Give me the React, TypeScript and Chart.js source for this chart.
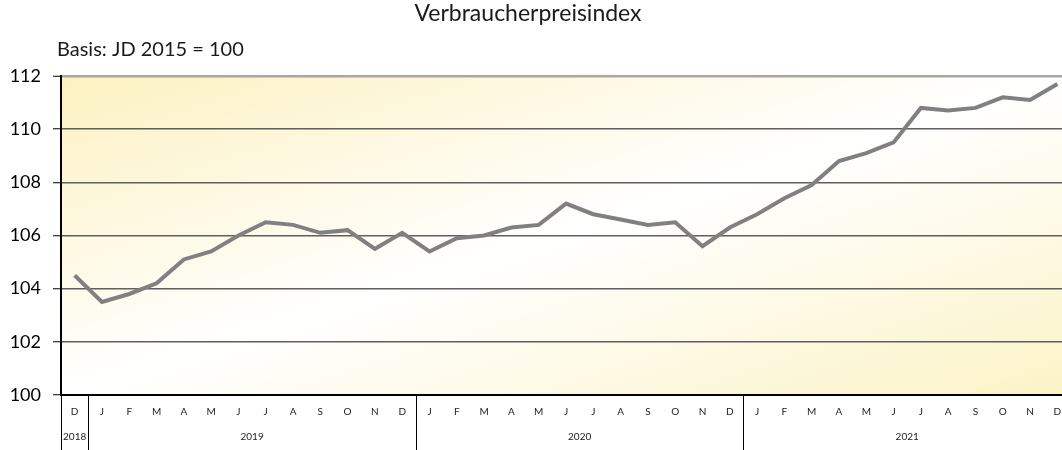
import React, { useEffect, useRef } from "react";
import { Chart, registerables } from "chart.js";

Chart.register(...registerables);

const chartTitle = "Verbraucherpreisindex";
const chartSubtitle = "Basis: JD 2015 = 100";

const monthLabels = [
  "D",
  "J", "F", "M", "A", "M", "J", "J", "A", "S", "O", "N", "D",
  "J", "F", "M", "A", "M", "J", "J", "A", "S", "O", "N", "D",
  "J", "F", "M", "A", "M", "J", "J", "A", "S", "O", "N", "D",
];

const yearLabels = ["2018", "2019", "2020", "2021"];
const monthsPerYear = [1, 12, 12, 12];

const cpiValues = [
  104.5,
  103.5, 103.8, 104.2, 105.1, 105.4, 106.0, 106.5, 106.4, 106.1, 106.2, 105.5, 106.1,
  105.4, 105.9, 106.0, 106.3, 106.4, 107.2, 106.8, 106.6, 106.4, 106.5, 105.6, 106.3,
  106.8, 107.4, 107.9, 108.8, 109.1, 109.5, 110.8, 110.7, 110.8, 111.2, 111.1, 111.7,
];

const yMin = 100;
const yMax = 112;
const yStep = 2;

const FONT = "Lato, 'Noto Sans', sans-serif";

const backgroundPlugin = {
  id: "bgGradient",
  beforeDraw(chart: any) {
    const { ctx, chartArea } = chart;
    if (!chartArea) return;
    const { left, top, right, bottom } = chartArea;
    const W = right - left;
    const H = bottom - top;
    const cx = (left + right) / 2;
    const cy = (top + bottom) / 2;
    const k = (W * H) / (W * W + H * H);
    const g = ctx.createLinearGradient(cx - k * H, cy - k * W, cx + k * H, cy + k * W);
    g.addColorStop(0, "#fcf1c0");
    g.addColorStop(0.5, "#ffffff");
    g.addColorStop(1, "#fbf3c6");
    ctx.save();
    ctx.fillStyle = g;
    ctx.fillRect(left, top, W, H);
    ctx.restore();
  },
};

const overlayPlugin = {
  id: "overlay",
  afterDraw(chart: any) {
    const { ctx, chartArea } = chart;
    const xScale = chart.scales.x;
    ctx.save();
    // title
    ctx.fillStyle = "#1a1a1a";
    ctx.font = `23px ${FONT}`;
    ctx.textAlign = "center";
    ctx.textBaseline = "middle";
    ctx.fillText(chartTitle, chart.width / 2 - 3, 14);
    // subtitle
    ctx.font = `20px ${FONT}`;
    ctx.textAlign = "left";
    ctx.fillText(chartSubtitle, 57, 50);

    // year separators and labels
    ctx.strokeStyle = "#000000";
    ctx.lineWidth = 1;
    let start = 0;
    const bottomY = chart.height;
    const drawSep = (idx: number) => {
      const px = Math.round(xScale.getPixelForValue(idx - 0.5)) + 0.5;
      ctx.beginPath();
      ctx.moveTo(px, chartArea.bottom);
      ctx.lineTo(px, bottomY);
      ctx.stroke();
    };
    ctx.font = `10px ${FONT}`;
    ctx.textAlign = "center";
    ctx.fillStyle = "#222222";
    monthsPerYear.forEach((n, i) => {
      drawSep(start);
      const mid = start + (n - 1) / 2;
      ctx.fillText(yearLabels[i], xScale.getPixelForValue(mid), 437);
      start += n;
    });
    drawSep(start);
    ctx.restore();
  },
};

export default function App() {
  const canvasRef = useRef<HTMLCanvasElement | null>(null);

  useEffect(() => {
    document.body.style.margin = "0";
    const canvas = canvasRef.current;
    if (!canvas) return;
    const chart = new Chart(canvas, {
      type: "line",
      data: {
        datasets: [
          {
            label: chartTitle,
            data: cpiValues.map((v, i) => ({ x: i, y: v })),
            borderColor: "#808080",
            borderWidth: 4,
            pointRadius: 0,
            pointHoverRadius: 0,
            tension: 0,
            fill: false,
          },
        ],
      },
      options: {
        animation: false,
        responsive: true,
        maintainAspectRatio: false,
        layout: { padding: { top: 76, left: 0, right: 0, bottom: 0 } },
        plugins: {
          legend: { display: false },
          title: { display: false },
          tooltip: { enabled: false },
        },
        scales: {
          x: {
            type: "linear",
            min: -0.5,
            max: 36.17,
            afterFit(scale: any) {
              scale.height = 55;
              scale.paddingLeft = 0;
              scale.paddingRight = 0;
            },
            afterBuildTicks(scale: any) {
              scale.ticks = monthLabels.map((_, i) => ({ value: i }));
            },
            grid: { display: false, drawTicks: false, tickLength: 0 },
            border: { display: true, color: "#000000", width: 2 },
            ticks: {
              autoSkip: false,
              maxRotation: 0,
              minRotation: 0,
              padding: 11,
              color: "#222222",
              font: { family: FONT, size: 10 },
              callback: (v: any) => monthLabels[v as number] ?? "",
            },
          },
          y: {
            type: "linear",
            min: yMin,
            max: yMax,
            afterFit(scale: any) {
              scale.width = 61;
            },
            ticks: {
              stepSize: yStep,
              padding: 12,
              color: "#000000",
              font: { family: FONT, size: 18 },
            },
            grid: {
              color: (c: any) => (c.tick && c.tick.value === yMax ? "#a8a8a8" : "#5f5f5f"),
              lineWidth: (c: any) => (c.tick && c.tick.value === yMax ? 2.5 : 1.5),
              tickColor: "#000000",
              tickWidth: 1,
              tickLength: 8,
            },
            border: { display: true, color: "#000000", width: 2 },
          },
        },
      },
      plugins: [backgroundPlugin, overlayPlugin],
    });
    return () => chart.destroy();
  }, []);

  return (
    <div style={{ width: "1062px", height: "450px", position: "relative" }}>
      <canvas ref={canvasRef} />
    </div>
  );
}
